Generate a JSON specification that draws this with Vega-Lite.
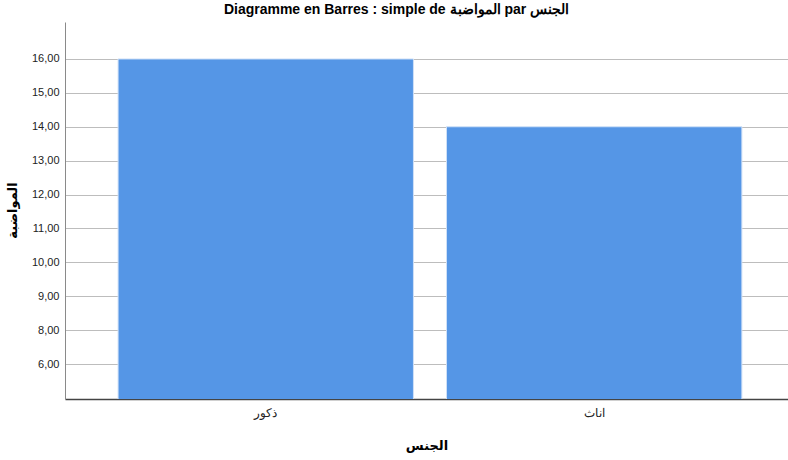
{
  "$schema": "https://vega.github.io/schema/vega-lite/v6.json",
  "width": 723,
  "height": 377,
  "autosize": {"type": "none"},
  "padding": {"left": 65, "top": 22, "right": 0, "bottom": 61},
  "background": "#ffffff",
  "title": {
    "text": "Diagramme en Barres : simple de المواضبة par الجنس",
    "font": "Liberation Sans",
    "fontSize": 14,
    "fontWeight": "bold",
    "color": "#000000",
    "anchor": "middle",
    "dx": -30,
    "offset": 5
  },
  "data": {
    "values": [
      {"gender": "ذكور", "value": 16},
      {"gender": "اناث", "value": 14}
    ]
  },
  "config": {
    "view": {"stroke": null},
    "font": "Liberation Sans"
  },
  "mark": {"type": "bar", "color": "#5596e6", "stroke": "#cfe0f7", "strokeWidth": 1, "clip": true},
  "encoding": {
    "x": {
      "field": "gender",
      "type": "nominal",
      "sort": null,
      "title": "الجنس",
      "scale": {"paddingInner": 0.1006, "paddingOuter": 0.151, "align": 0.535},
      "axis": {
        "labelAngle": 0,
        "ticks": false,
        "domainColor": "#444444",
        "domainWidth": 1.5,
        "labelFontSize": 12,
        "labelColor": "#222222",
        "labelPadding": 8,
        "titleFontSize": 13,
        "titleFontWeight": "bold",
        "titleColor": "#000000",
        "titleY": 46,
        "titleBaseline": "middle",
        "titleFont": "DejaVu Sans"
      }
    },
    "y": {
      "field": "value",
      "type": "quantitative",
      "title": "المواضبة",
      "scale": {"domain": [5.97, 17.09], "zero": false, "nice": false},
      "axis": {
        "values": [7, 8, 9, 10, 11, 12, 13, 14, 15, 16],
        "labelExpr": "datum.value == 7 ? '6,00' : replace(format(datum.value, '.2f'), '.', ',')",
        "ticks": false,
        "grid": true,
        "gridColor": "#bdbdbd",
        "gridWidth": 1.2,
        "domainColor": "#8a8a8a",
        "labelFontSize": 11,
        "labelColor": "#222222",
        "labelPadding": 6,
        "titleFontSize": 13,
        "titleFontWeight": "bold",
        "titleColor": "#000000",
        "titleX": -53,
        "titleY": 188,
        "titleAlign": "center",
        "titleBaseline": "middle",
        "titleFont": "DejaVu Sans"
      }
    }
  }
}
